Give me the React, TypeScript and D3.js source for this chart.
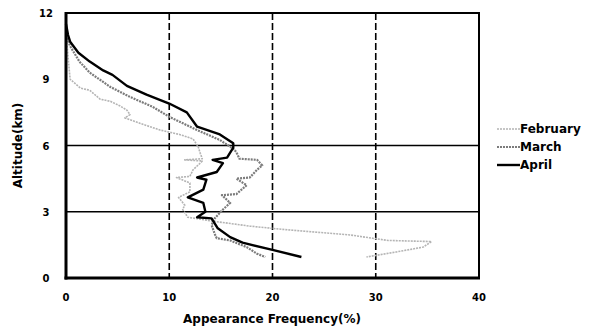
import * as d3 from 'd3';

// altitude (km) vs appearance frequency (%), read from top to bottom
const febFreq = [0, 0.2, 0.4, 1.4, 2.3, 3.3, 4.3, 5.2, 5.9, 6.2, 5.7, 7.2, 9.1, 11, 12.3, 12.8, 13, 13.2, 11.5, 13.2, 13, 12.3, 12, 10.7, 12, 12, 10.9, 11.5, 11.3, 11.8, 14.6, 17.8, 21, 24.9, 27.5, 29.7, 31.2, 35.4, 34.6, 32, 29.1];
const febAlt = [11.2, 10, 9.0, 8.6, 8.5, 8.1, 8.0, 7.8, 7.6, 7.4, 7.25, 7.0, 6.7, 6.5, 6.3, 5.95, 5.65, 5.4, 5.35, 5.3, 5.2, 4.9, 4.6, 4.55, 4.3, 3.9, 3.65, 3.3, 3.1, 2.75, 2.55, 2.35, 2.2, 2.05, 1.95, 1.8, 1.7, 1.65, 1.4, 1.18, 0.95];

const marFreq = [0, 0.4, 1.3, 2.3, 4.3, 6.2, 8.4, 10, 12.7, 14.9, 16.2, 16.5, 16.8, 18.5, 19, 18.5, 17.8, 16.5, 17.5, 16.5, 15.1, 15.9, 15.2, 14.4, 14.1, 14.4, 14.6, 15.9, 17.5, 18.5, 19.3];
const marAlt = [11.0, 10.5, 9.8, 9.3, 8.65, 8.2, 7.75, 7.3, 6.7, 6.25, 5.85, 5.7, 5.4, 5.35, 5.1, 4.9, 4.55, 4.5, 4.2, 3.8, 3.75, 3.4, 3.1, 2.7, 2.4, 2.0, 1.8, 1.7, 1.4, 1.1, 0.95];

const aprFreq = [0, 0.2, 0.4, 1.2, 2.3, 3.6, 4.5, 5.9, 7.8, 10, 11.7, 12.7, 14.9, 16.2, 16.2, 15.6, 14.2, 15.2, 14.6, 12.7, 13.6, 13.3, 11.8, 13.3, 13.5, 12.7, 14.1, 14.7, 15.9, 17.1, 20, 22.8];
const aprAlt = [11.5, 11, 10.7, 10.2, 9.8, 9.4, 9.2, 8.7, 8.3, 7.9, 7.5, 6.85, 6.5, 6.1, 5.9, 5.45, 5.35, 5.2, 4.8, 4.55, 4.45, 4.0, 3.65, 3.4, 3.0, 2.75, 2.7, 2.25, 1.85, 1.6, 1.27, 0.95];

const xTicks = [0, 10, 20, 30, 40];
const yTicks = [0, 3, 6, 9, 12];

const series = [
  { name: 'February', freq: febFreq, alt: febAlt, color: '#b4b4b4', width: 1.6, dash: '2,1' },
  { name: 'March', freq: marFreq, alt: marAlt, color: '#7c7c7c', width: 2.2, dash: '2,1' },
  { name: 'April', freq: aprFreq, alt: aprAlt, color: '#000', width: 2.4, dash: null },
];

export default function App() {
  const W = 589, H = 327;
  const m = { left: 66, right: 479, top: 13, bottom: 278 };
  const x = d3.scaleLinear().domain([0, 40]).range([m.left, m.right]);
  const y = d3.scaleLinear().domain([0, 12]).range([m.bottom, m.top]);
  const font = '"DejaVu Sans", Arial, sans-serif';

  return (
    <svg width={W} height={H} style={{ position: 'absolute', left: 0, top: 0, background: '#fff' }} fontFamily={font}>
      {/* grid */}
      {[10, 20, 30].map(v => (
        <line key={'gx' + v} x1={x(v)} x2={x(v)} y1={m.top} y2={m.bottom} stroke="#000" strokeWidth={1.6} strokeDasharray="7,3" />
      ))}
      {[3, 6].map(v => (
        <line key={'gy' + v} x1={m.left} x2={m.right} y1={y(v)} y2={y(v)} stroke="#000" strokeWidth={1.4} />
      ))}

      {/* series */}
      {series.map(s => {
        const pts = s.freq.map((f, i) => [f, s.alt[i]] as [number, number]);
        const line = d3.line<[number, number]>().x(d => x(d[0])).y(d => y(d[1]));
        return (
          <path key={s.name} d={line(pts) || ''} fill="none" stroke={s.color} strokeWidth={s.width}
            strokeDasharray={s.dash || undefined} strokeLinejoin="round" />
        );
      })}

      {/* frame */}
      <rect x={m.left} y={m.top} width={m.right - m.left} height={m.bottom - m.top} fill="none" stroke="#000" strokeWidth={2} />
      <line x1={m.left} x2={m.left} y1={m.top - 1} y2={m.bottom + 1.5} stroke="#000" strokeWidth={3} />
      <line x1={m.left - 1.5} x2={m.right + 1} y1={m.bottom} y2={m.bottom} stroke="#000" strokeWidth={3} />

      {/* tick labels */}
      {xTicks.map(v => (
        <text key={'tx' + v} x={x(v)} y={301} textAnchor="middle" fontSize={10} fontWeight="bold">{v}</text>
      ))}
      {yTicks.map(v => (
        <text key={'ty' + v} x={46} y={y(v) + 4} textAnchor="middle" fontSize={10} fontWeight="bold">{v}</text>
      ))}

      {/* axis titles */}
      <text x={272} y={323} textAnchor="middle" fontSize={12} fontWeight="bold">Appearance Frequency(%)</text>
      <text transform={`translate(22,${y(6)}) rotate(-90)`} textAnchor="middle" fontSize={12} fontWeight="bold">Altitude(km)</text>

      {/* legend */}
      {series.map((s, i) => {
        const ly = 129 + i * 18;
        return (
          <g key={'lg' + s.name}>
            <line x1={497} x2={520} y1={ly} y2={ly} stroke={s.color} strokeWidth={s.width} strokeDasharray={s.dash || undefined} />
            <text x={520} y={ly + 4} fontSize={12} fontWeight="bold">{s.name}</text>
          </g>
        );
      })}
    </svg>
  );
}
